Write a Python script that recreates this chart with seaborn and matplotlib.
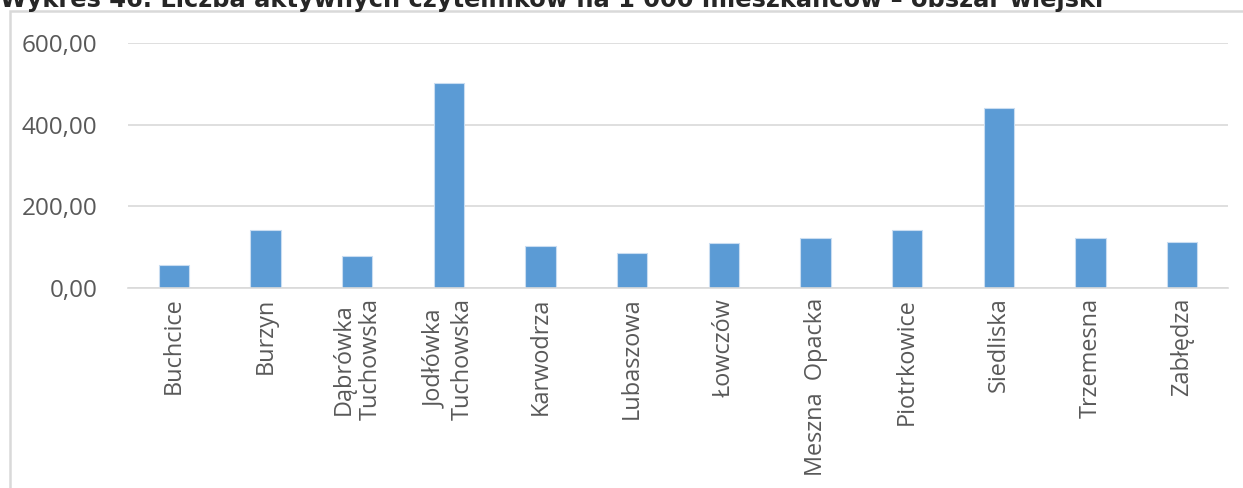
import numpy as np
import pandas as pd
import matplotlib
matplotlib.use("Agg")
import matplotlib.pyplot as plt
import seaborn as sns
from matplotlib.patches import Rectangle

miejscowosci = ["Buchcice", "Burzyn", "Dąbrówka\nTuchowska", "Jodłówka\nTuchowska",
                "Karwodrza", "Lubaszowa", "Łowczów", "Meszna  Opacka",
                "Piotrkowice", "Siedliska", "Trzemesna", "Zabłędza"]
czytelnicy = [56, 142, 79, 502, 102, 86, 109, 123, 142, 440, 123, 113]
y_ticks = [0, 200, 400, 600]
y_labels = ["0,00", "200,00", "400,00", "600,00"]

df = pd.DataFrame({"miejscowosc": miejscowosci, "czytelnicy": czytelnicy})

sns.set_style("white")
plt.rcParams["font.family"] = ["Open Sans", "DejaVu Sans"]

fig = plt.figure(figsize=(12.43, 4.88), dpi=100)
ax = fig.add_axes([0.103, 0.41, 0.885, 0.502])

sns.barplot(data=df, x="miejscowosc", y="czytelnicy", color="#5B9BD5",
            saturation=1, width=0.33, edgecolor="#C9DDF1", linewidth=0.8, ax=ax)

ax.set_ylim(0, 600)
ax.set_yticks(y_ticks)
ax.set_yticklabels(y_labels)
ax.yaxis.grid(True, color="#D9D9D9", linewidth=1.2)
ax.set_axisbelow(True)
for s in ["left", "right", "top"]:
    ax.spines[s].set_visible(False)
ax.spines["bottom"].set_color("#D9D9D9")
ax.spines["bottom"].set_linewidth(1.2)
ax.tick_params(axis="y", length=0, colors="#595959", labelsize=17.5, pad=22)
ax.tick_params(axis="x", length=0, colors="#595959", labelsize=16.9, pad=7)
for lab in ax.get_xticklabels():
    lab.set_rotation(90)
    lab.set_multialignment("center")
ax.set_xlabel("")
ax.set_ylabel("")

# ramka obszaru wykresu
fig.patches.append(Rectangle((10 / 1243, -0.1), 1.2, 1 - 11 / 488 + 0.1,
                             transform=fig.transFigure, fill=False,
                             edgecolor="#D9D9D9", linewidth=1.8))

fig.text(0.0, 1 - 7 / 488, "Wykres 46. Liczba aktywnych czytelników na 1 000 mieszkańców – obszar wiejski",
         family="DejaVu Sans", fontweight="bold", fontsize=17.4, va="baseline", ha="left")

fig.savefig("out.png", dpi=100)
